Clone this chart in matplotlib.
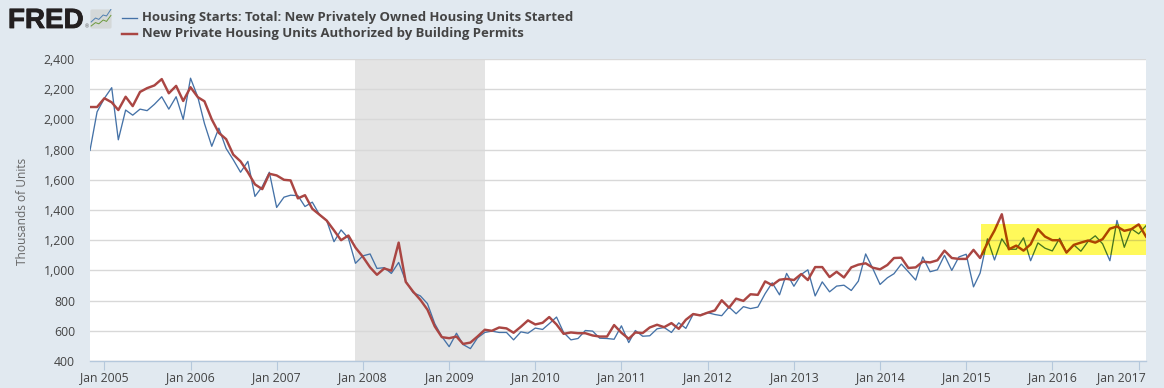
import pandas as pd
from matplotlib import pyplot as plt
from matplotlib import patheffects
from matplotlib import dates as mdates
from matplotlib.lines import Line2D
from matplotlib.patches import FancyBboxPatch, Rectangle
from matplotlib.transforms import ScaledTranslation

plt.rcParams['font.family'] = ['Open Sans', 'DejaVu Sans']

# monthly, Nov 2004 to Feb 2017
months = pd.date_range('2004-11-01', '2017-02-01', freq='MS')

starts = [1795, 2050,
          2140, 2210, 1865, 2062, 2028, 2068, 2058, 2100, 2150, 2068, 2150, 2000,
          2273, 2147, 1973, 1822, 1942, 1807, 1733, 1650, 1722, 1490, 1555, 1650,
          1417, 1485, 1498, 1495, 1423, 1452, 1370, 1330, 1190, 1268, 1213, 1047,
          1096, 1109, 1013, 1018, 980, 1053, 929, 853, 831, 780, 647, 562,
          495, 584, 509, 482, 553, 589, 598, 589, 589, 540, 593, 584,
          618, 609, 647, 691, 589, 540, 549, 602, 598, 551, 549, 544,
          633, 522, 602, 564, 567, 613, 622, 589, 653, 616, 709, 705,
          720, 708, 700, 757, 713, 760, 747, 757, 846, 918, 838, 980,
          895, 973, 1004, 831, 924, 858, 896, 902, 867, 929, 1109, 1013,
          907, 951, 978, 1042, 991, 936, 1089, 991, 1004, 1100, 1000, 1089,
          1107, 891, 982, 1209, 1069, 1209, 1140, 1140, 1216, 1064, 1182, 1147,
          1129, 1213, 1118, 1169, 1127, 1193, 1229, 1176, 1064, 1331, 1153, 1276,
          1242, 1296]

permits = [2082, 2082,
           2140, 2113, 2062, 2150, 2088, 2182, 2207, 2225, 2267, 2173, 2222, 2122,
           2213, 2147, 2120, 2000, 1911, 1869, 1767, 1722, 1650, 1570, 1538, 1640,
           1629, 1600, 1596, 1477, 1498, 1408, 1370, 1330, 1265, 1200, 1231, 1151,
           1091, 1020, 971, 1013, 998, 1184, 924, 860, 805, 740, 629, 558,
           551, 562, 513, 522, 562, 607, 600, 622, 616, 587, 627, 669,
           642, 653, 691, 642, 580, 589, 584, 584, 569, 562, 562, 638,
           587, 547, 589, 585, 622, 640, 624, 651, 613, 673, 711, 702,
           720, 735, 802, 753, 813, 798, 842, 838, 927, 902, 938, 944,
           936, 976, 936, 1022, 1022, 956, 991, 953, 1020, 1038, 1047, 1018,
           1007, 1036, 1082, 1084, 1016, 1020, 1058, 1053, 1067, 1131, 1082, 1076,
           1076, 1136, 1082, 1180, 1264, 1372, 1140, 1164, 1131, 1173, 1273, 1224,
           1200, 1200, 1118, 1169, 1184, 1198, 1184, 1207, 1276, 1291, 1262, 1273,
           1305, 1224]

y_ticks = [400, 600, 800, 1000, 1200, 1400, 1600, 1800, 2000, 2200, 2400]
x_ticks = pd.date_range('2005-01-01', '2017-01-01', freq='YS')
recession = ['2007-12-01', '2009-06-01']
yellow_start = '2015-03-05'
yellow_low, yellow_high = 1105, 1305

bg = '#e1e9f0'
W, H = 1164, 388

fig = plt.figure(figsize=(W / 100, H / 100), dpi=100, facecolor=bg)
ax = fig.add_axes([90 / W, 1 - 361 / H, (1146 - 90) / W, (361 - 59) / H])

ax.axvspan(pd.Timestamp(recession[0]), pd.Timestamp(recession[1]), color='#e4e4e4', lw=0, zorder=1)
ax.plot(months, starts, color='#4572a7', lw=0.95, zorder=3)
ax.plot(months, permits, color='#aa4643', lw=1.75, zorder=4)

# highlighter box, the marker tints whatever is under it so redraw things clipped to the box
x0 = pd.Timestamp(yellow_start)
ax.fill_between([x0, months[-1]], yellow_low, yellow_high, color='#fff95a', lw=0, zorder=5)
clip = Rectangle((mdates.date2num(x0), yellow_low),
                 mdates.date2num(months[-1]) - mdates.date2num(x0),
                 yellow_high - yellow_low, transform=ax.transData, visible=False)
ax.add_patch(clip)
for v in y_ticks:
    if yellow_low < v < yellow_high:
        ax.plot([x0, months[-1]], [v, v], color='#d8d258', lw=1.0, zorder=6)
hl_starts, = ax.plot(months, starts, color='#46751f', lw=0.95, zorder=7)
hl_permits, = ax.plot(months, permits, color='#ad4400', lw=1.75, zorder=8)
hl_starts.set_clip_path(clip)
hl_permits.set_clip_path(clip)

ax.set_xlim(months[0], months[-1])
ax.set_ylim(400, 2400)
ax.set_yticks(y_ticks)
ax.set_yticklabels([f'{v:,}' for v in y_ticks])
ax.set_xticks(x_ticks)
ax.set_xticklabels([d.strftime('%b %Y') for d in x_ticks])
ax.grid(axis='y', color='#d8d8d8', lw=1.0)
ax.set_axisbelow('line')

for side in ['top', 'right', 'left']:
    ax.spines[side].set_visible(False)
ax.spines['bottom'].set_color('#b5c8dc')
ax.spines['bottom'].set_linewidth(1.0)
ax.tick_params(axis='y', length=0, pad=10.8, labelsize=8.8, labelcolor='#444444')
ax.tick_params(axis='x', length=6.5, width=0.8, color='#b5c8dc', pad=0.5, labelsize=8.8, labelcolor='#444444')

# last label gets pushed in so it stays inside the plot width
last = ax.get_xticklabels()[-1]
last.set_ha('right')
last.set_transform(last.get_transform() + ScaledTranslation(7 / 100, 0, fig.dpi_scale_trans))

fig.text(22.5 / W, 1 - 211 / H, 'Thousands of Units', rotation=90, ha='center', va='center',
         fontsize=8.6, color='#666666')

# legend, placed by hand like the FRED header
legend_rows = [('Housing Starts: Total: New Privately Owned Housing Units Started', '#4572a7', 0.95, 17.5),
               ('New Private Housing Units Authorized by Building Permits', '#aa4643', 1.75, 33.5)]
for label, col, lw, py in legend_rows:
    fig.add_artist(Line2D([122 / W, 137 / W], [1 - py / H, 1 - py / H], color=col, lw=lw))
    fig.text(142.5 / W, 1 - py / H, label, ha='left', va='center', fontsize=9.45,
             fontweight='bold', color='#444444')

# logo
logo = fig.text(8 / W, 1 - 28 / H, 'FRED', ha='left', va='baseline', fontsize=20, fontweight='bold',
                family='Liberation Sans', color='#231f20')
logo.set_path_effects([patheffects.withStroke(linewidth=0.6, foreground='#231f20')])
fig.text(85 / W, 1 - 28.5 / H, '®', ha='left', va='baseline', fontsize=3.5, color='#555555')
icon = fig.add_axes([90 / W, 1 - 29 / H, 22 / W, 20 / H])
icon.axis('off')
icon.set_xlim(0, 10)
icon.set_ylim(0, 10)
icon.add_patch(FancyBboxPatch((0.2, 0.2), 9.6, 9.6, boxstyle='round,pad=0,rounding_size=0.8',
                              fc='#d4d8d8', ec='none'))
icon.plot([0.5, 2.5, 4, 6, 7.5, 9.5], [3.5, 5.5, 4.8, 7, 6.5, 9.8], color='#4f7fb0', lw=0.7)
icon.plot([0.5, 2.5, 4, 6, 7.5, 9.5], [1.5, 3.2, 2.6, 4.5, 3.8, 6.8], color='#6d9a3d', lw=0.7)

fig.savefig('out.png', dpi=100, facecolor=bg)
